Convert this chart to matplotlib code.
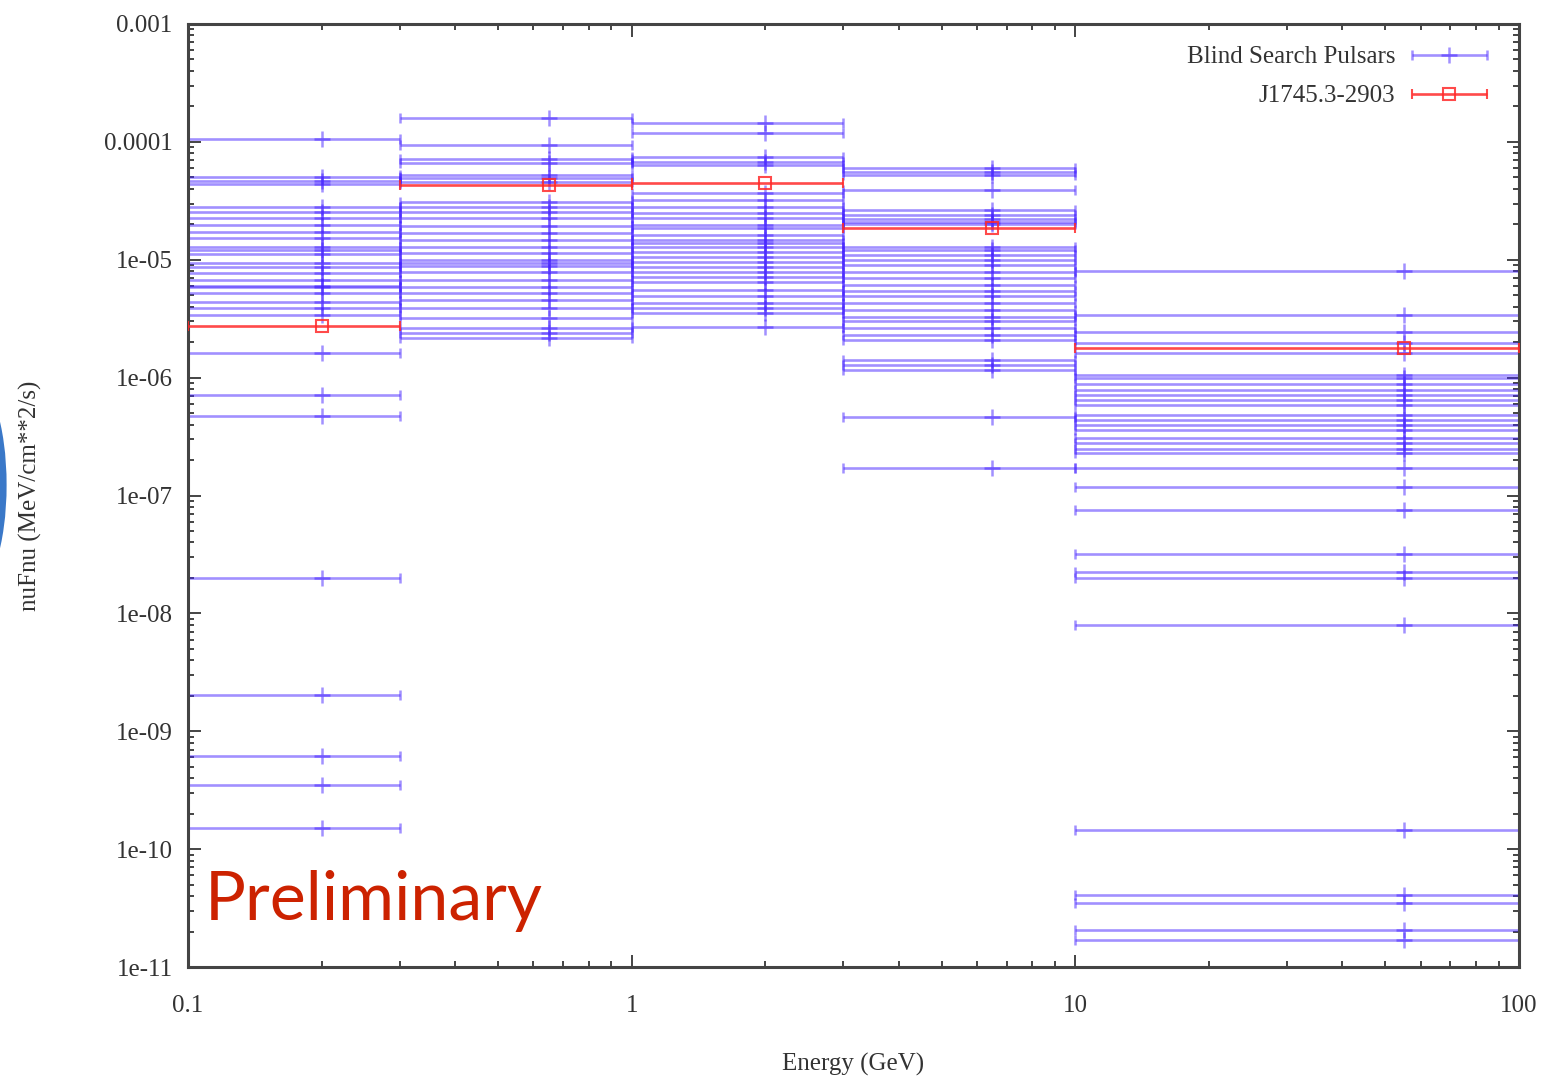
import numpy as np
import matplotlib
matplotlib.use("Agg")
import matplotlib.pyplot as plt
from matplotlib.ticker import LogLocator, NullFormatter, FuncFormatter
from matplotlib.legend_handler import HandlerErrorbar
from matplotlib.container import ErrorbarContainer
from matplotlib.patches import Ellipse

# energy bins (GeV)
bin_lo = [0.1, 0.3, 1.0, 3.0, 10.0]
bin_hi = [0.3, 1.0, 3.0, 10.0, 100.0]
bin_mid = [0.2, 0.65, 2.0, 6.5, 55.0]

# Blind search pulsars, nuFnu per bin (MeV/cm**2/s)
blind_b1 = [1.05e-4, 5.0e-5, 4.7e-5, 4.4e-5, 2.8e-5, 2.55e-5, 2.26e-5, 1.97e-5, 1.72e-5,
            1.53e-5, 1.28e-5, 1.2e-5, 1.12e-5, 9.4e-6, 8.7e-6, 7.7e-6, 6.7e-6, 6.0e-6,
            5.9e-6, 5.2e-6, 4.4e-6, 3.9e-6, 3.4e-6, 1.61e-6, 7.1e-7, 4.7e-7, 2.0e-8,
            2.03e-9, 6.2e-10, 3.5e-10, 1.5e-10]
blind_b2 = [1.58e-4, 9.5e-5, 7.2e-5, 6.6e-5, 5.2e-5, 4.9e-5, 4.6e-5, 3.1e-5, 2.8e-5,
            2.56e-5, 2.25e-5, 1.93e-5, 1.68e-5, 1.47e-5, 1.29e-5, 1.13e-5, 1.0e-5, 9.4e-6,
            8.8e-6, 7.9e-6, 6.7e-6, 5.9e-6, 5.2e-6, 4.6e-6, 3.9e-6, 3.2e-6, 2.63e-6,
            2.4e-6, 2.15e-6]
blind_b3 = [1.44e-4, 1.18e-4, 7.5e-5, 6.8e-5, 6.4e-5, 3.66e-5, 3.2e-5, 2.8e-5, 2.5e-5,
            2.25e-5, 1.97e-5, 1.86e-5, 1.62e-5, 1.47e-5, 1.38e-5, 1.29e-5, 1.17e-5, 1.06e-5,
            9.5e-6, 8.7e-6, 7.9e-6, 7.2e-6, 6.5e-6, 5.5e-6, 4.9e-6, 4.3e-6, 3.9e-6,
            3.5e-6, 2.7e-6]
blind_b4 = [5.97e-5, 5.6e-5, 5.2e-5, 3.9e-5, 2.64e-5, 2.4e-5, 2.2e-5, 2.1e-5, 2.0e-5,
            1.29e-5, 1.21e-5, 1.1e-5, 1.0e-5, 9.0e-6, 7.9e-6, 7.0e-6, 6.1e-6, 5.4e-6,
            4.9e-6, 4.3e-6, 3.75e-6, 3.3e-6, 3.0e-6, 2.63e-6, 2.3e-6, 2.08e-6, 1.41e-6,
            1.28e-6, 1.16e-6, 4.67e-7, 1.7e-7]
blind_b5 = [8.07e-6, 3.4e-6, 2.45e-6, 1.95e-6, 1.61e-6, 1.05e-6, 9.9e-7, 8.9e-7, 7.85e-7,
            7.1e-7, 6.5e-7, 5.9e-7, 4.8e-7, 4.4e-7, 4.0e-7, 3.6e-7, 3.05e-7, 2.77e-7,
            2.5e-7, 2.3e-7, 1.7e-7, 1.19e-7, 7.5e-8, 3.2e-8, 2.26e-8, 1.99e-8, 7.96e-9,
            1.45e-10, 4.1e-11, 3.5e-11, 2.06e-11, 1.7e-11]
blind_bins = [blind_b1, blind_b2, blind_b3, blind_b4, blind_b5]

# J1745.3-2903
j1745 = [2.74e-6, 4.3e-5, 4.48e-5, 1.86e-5, 1.77e-6]

blue = "#4422ff"
red = "#ff2a2a"

plt.rcParams["font.family"] = ["Liberation Serif", "DejaVu Serif"]

fig = plt.figure(figsize=(15.55, 10.78), dpi=100)
ax = fig.add_axes([188 / 1555, 1 - 967 / 1078, 1331 / 1555, 943 / 1078])

# slide decoration peeking in at the left edge
deco = Ellipse((-28 / 1555, 1 - 485 / 1078), 72 / 1555, 220 / 1078,
               transform=fig.transFigure, facecolor="#3a78c8", edgecolor="white",
               lw=2, zorder=0)
fig.patches.append(deco)

# blind search pulsars
bx, by, bxl, bxh = [], [], [], []
for i, vals in enumerate(blind_bins):
    for v in vals:
        bx.append(bin_mid[i])
        by.append(v)
        bxl.append(bin_mid[i] - bin_lo[i])
        bxh.append(bin_hi[i] - bin_mid[i])
bx = np.array(bx)
by = np.array(by)
eb_blue = ax.errorbar(bx, by, xerr=[bxl, bxh], fmt="+", color=blue, alpha=0.5,
                      ms=11, mew=1.8, elinewidth=1.9, capsize=3.5, capthick=1.8,
                      label="Blind Search Pulsars", zorder=2)

# J1745.3-2903
rx = np.array(bin_mid)
rxl = rx - np.array(bin_lo)
rxh = np.array(bin_hi) - rx
eb_red = ax.errorbar(rx, j1745, xerr=[rxl, rxh], fmt="s", color=red, alpha=0.85,
                     ms=8.5, mfc="none", mew=1.5, elinewidth=1.9, capsize=3.5, capthick=1.8,
                     label="J1745.3-2903", zorder=3)

ax.set_xscale("log")
ax.set_yscale("log")
ax.set_xlim(0.1, 100)
ax.set_ylim(1e-11, 1e-3)

ax.xaxis.set_major_locator(LogLocator(base=10, numticks=20))
ax.yaxis.set_major_locator(LogLocator(base=10, numticks=20))
ax.xaxis.set_minor_locator(LogLocator(base=10, subs=np.arange(2, 10), numticks=100))
ax.yaxis.set_minor_locator(LogLocator(base=10, subs=np.arange(2, 10), numticks=100))
ax.xaxis.set_minor_formatter(NullFormatter())
ax.yaxis.set_minor_formatter(NullFormatter())
fmt = FuncFormatter(lambda v, pos: "%g" % v)
ax.xaxis.set_major_formatter(fmt)
ax.yaxis.set_major_formatter(fmt)

ax.tick_params(which="both", direction="in", top=True, right=True,
               colors="#444444", labelcolor="#333333", labelsize=18, width=1.4)
ax.tick_params(which="major", length=9)
ax.tick_params(which="minor", length=4.5)
ax.tick_params(axis="y", pad=11)
ax.tick_params(axis="x", pad=20)
for s in ax.spines.values():
    s.set_color("#444444")
    s.set_linewidth(2.2)

ax.set_xlabel("Energy (GeV)", fontsize=18, color="#333333")
ax.set_ylabel("nuFnu (MeV/cm**2/s)", fontsize=18, color="#333333")
ax.xaxis.set_label_coords(0.5, (967 - 1053) / 943)
ax.yaxis.set_label_coords((42 - 188) / 1331, 0.5)

# legend, one entry per row so the text is right-aligned like gnuplot
hmap = {ErrorbarContainer: HandlerErrorbar(xerr_size=1.5)}
leg1 = ax.legend([eb_blue], ["Blind Search Pulsars"], loc="center right",
                 bbox_to_anchor=((1488 - 188) / 1331, (967 - 57) / 943),
                 frameon=False, markerfirst=False, handlelength=3.1, handletextpad=0.6,
                 borderpad=0, borderaxespad=0, fontsize=18, handler_map=hmap)
ax.add_artist(leg1)
leg2 = ax.legend([eb_red], ["J1745.3-2903"], loc="center right",
                 bbox_to_anchor=((1488 - 188) / 1331, (967 - 96) / 943),
                 frameon=False, markerfirst=False, handlelength=3.1, handletextpad=0.6,
                 borderpad=0, borderaxespad=0, fontsize=18, handler_map=hmap)
for t in leg1.get_texts() + leg2.get_texts():
    t.set_color("#333333")

fig.text(205 / 1555, 1 - 920 / 1078, "Preliminary", color="#cc2200",
         fontsize=49, family="Lato", va="baseline", ha="left")

fig.savefig("out.png", dpi=100)
